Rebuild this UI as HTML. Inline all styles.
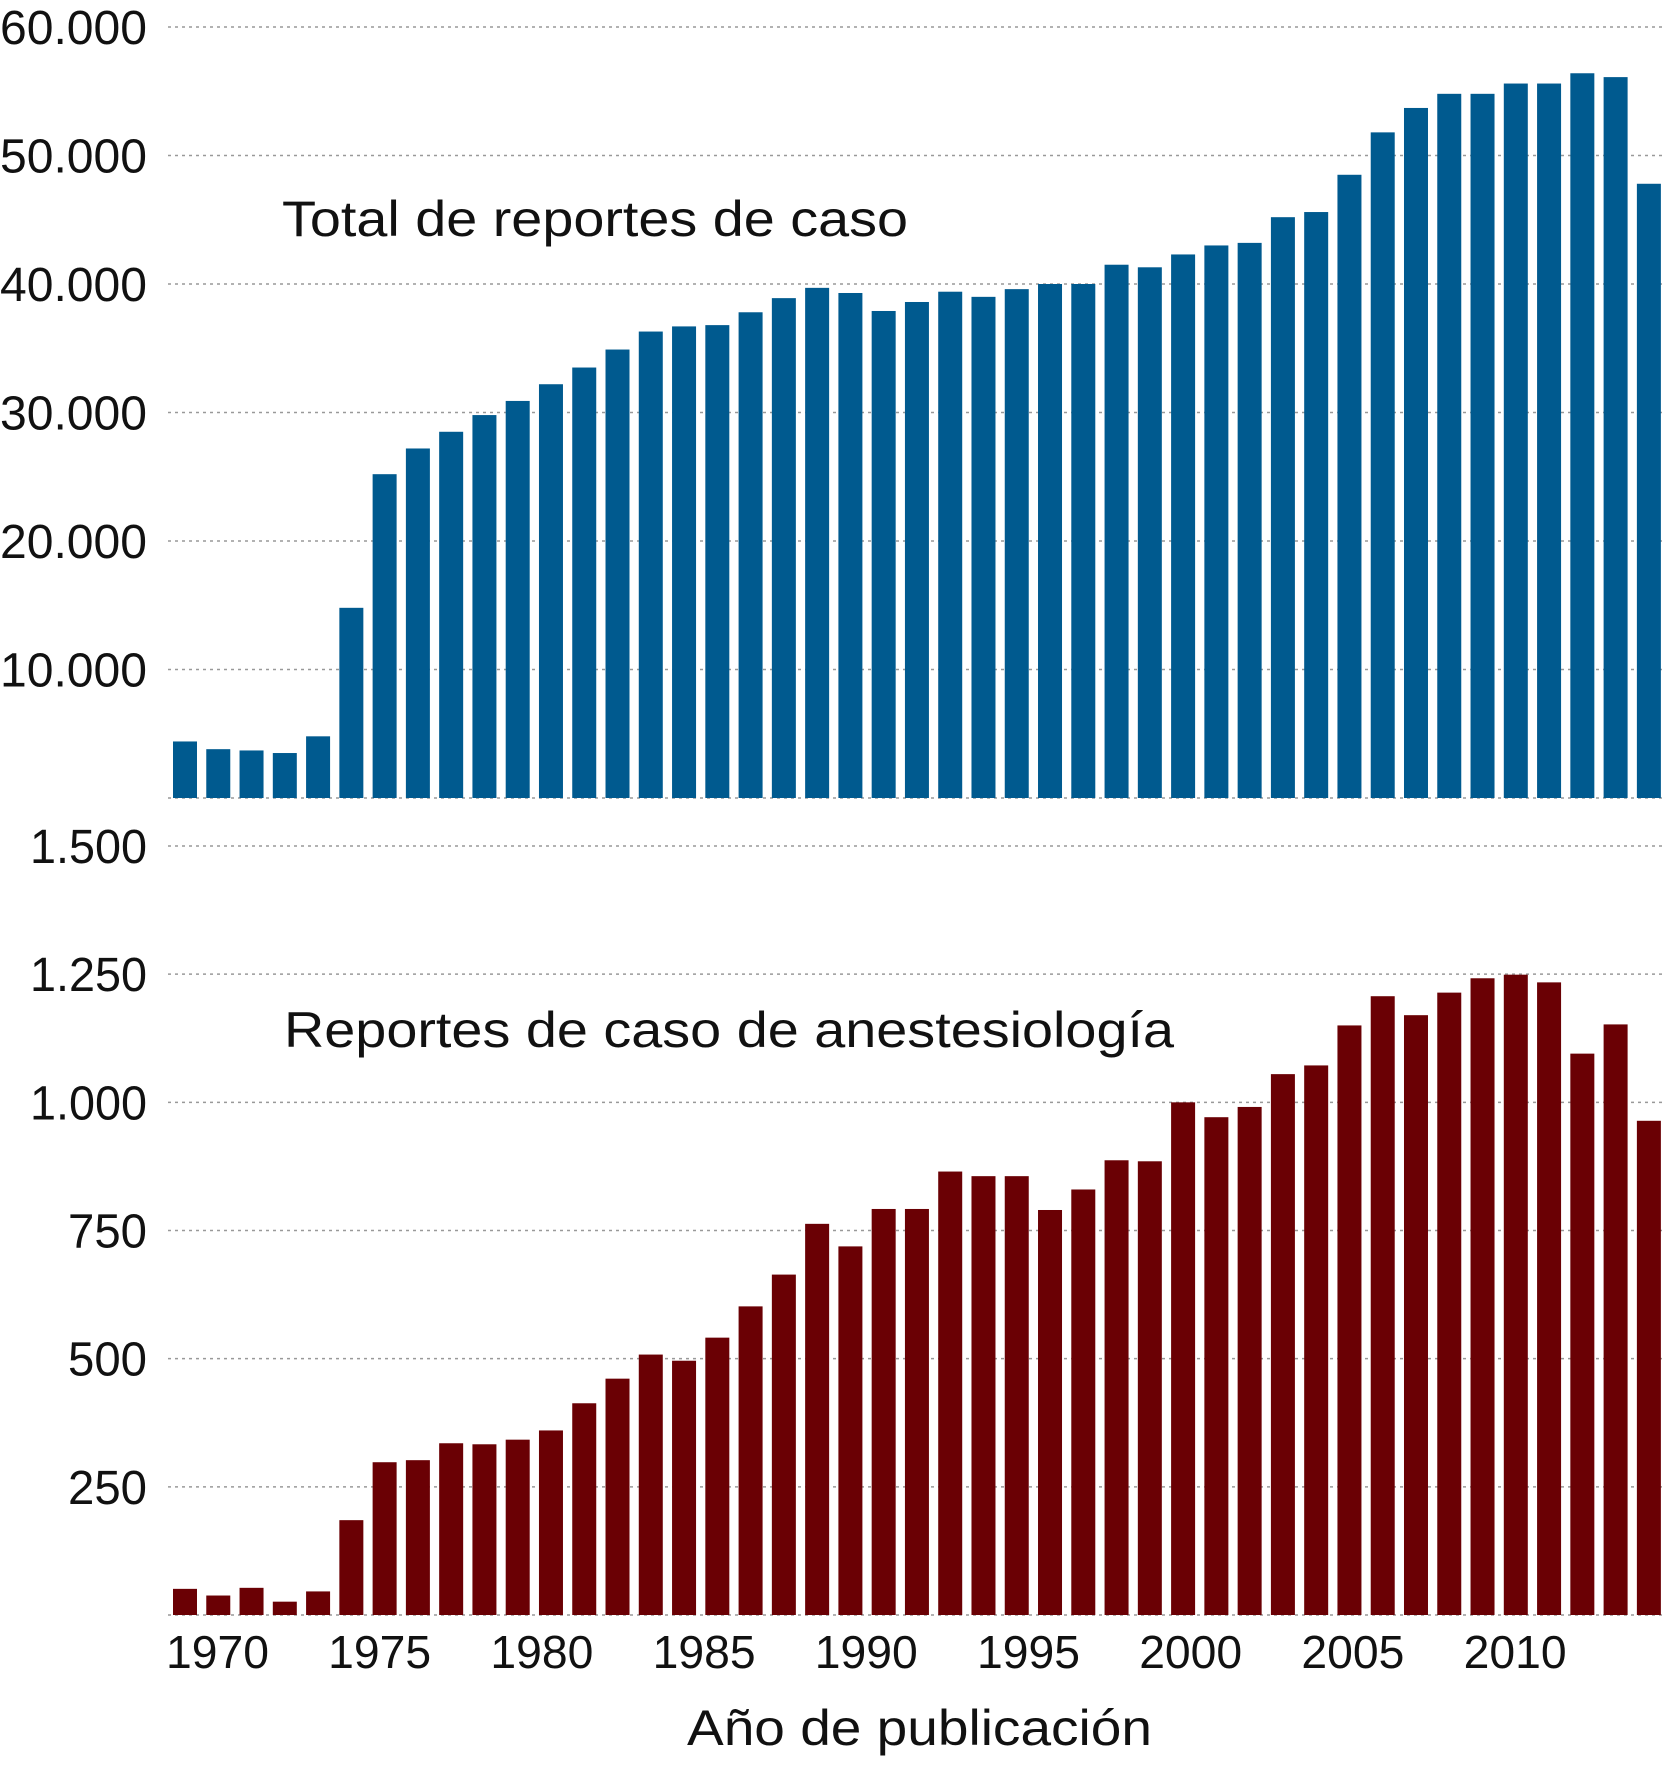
<!DOCTYPE html>
<html><head><meta charset="utf-8"><style>
html,body{margin:0;padding:0;background:#fff;}
svg{display:block;font-family:"Liberation Sans",Arial,sans-serif;}
</style></head><body>
<svg id="chart" width="1666" height="1773" viewBox="0 0 1666 1773" xmlns="http://www.w3.org/2000/svg">
<g id="topPanel"></g>
<g id="botPanel"></g>
<text x="282" y="236" font-size="50" fill="#111" textLength="626" lengthAdjust="spacingAndGlyphs">Total de reportes de caso</text>
<text x="284" y="1047" font-size="50" fill="#111" textLength="890" lengthAdjust="spacingAndGlyphs">Reportes de caso de anestesiología</text>
<text x="687" y="1745" font-size="50" fill="#111" textLength="465" lengthAdjust="spacingAndGlyphs">Año de publicación</text>
</svg>
<script>
const years = [1969,1970,1971,1972,1973,1974,1975,1976,1977,1978,1979,1980,1981,1982,1983,1984,1985,1986,1987,1988,1989,1990,1991,1992,1993,1994,1995,1996,1997,1998,1999,2000,2001,2002,2003,2004,2005,2006,2007,2008,2009,2010,2011,2012,2013];
const totalReports = [4400,3800,3700,3500,4800,14800,25200,27200,28500,29800,30900,32200,33500,34900,36300,36700,36800,37800,38900,39700,39300,37900,38600,39400,39000,39600,40000,40000,41500,41300,42300,43000,43200,45200,45600,48500,51800,53700,54800,54800,55600,55600,56400,56100,47800];
const anesthReports = [51,38,53,26,46,185,298,302,335,333,342,360,413,461,508,496,541,602,664,763,719,792,792,865,856,856,790,830,887,885,1000,971,991,1055,1072,1150,1207,1170,1214,1242,1249,1234,1095,1152,964];
const topTicks = [10000,20000,30000,40000,50000,60000];
const topTickLabels = ["10.000","20.000","30.000","40.000","50.000","60.000"];
const botTicks = [250,500,750,1000,1250,1500];
const botTickLabels = ["250","500","750","1.000","1.250","1.500"];
const yearLabels = [1970,1975,1980,1985,1990,1995,2000,2005,2010];

const NS = "http://www.w3.org/2000/svg";
const firstX = 173, band = 33.27, barW = 24;
function xPos(i){ return firstX + i*band; }
function xLabel(yr){ return 166 + (yr-1970)/5*162.2; }
function yTop(v){ return 798 - v*(798-27)/60000; }
function yBot(v){ return 1615 - v*(1615-846)/1500; }
function mk(tag, attrs, parent){
  const e = document.createElementNS(NS, tag);
  for (const k in attrs) e.setAttribute(k, attrs[k]);
  parent.appendChild(e); return e;
}
function labelLen(s){ return s.length===6 ? 147 : (s.length===5 ? 117 : 79); }
function grid(parent, y){
  const l = mk('line', {x1:168, x2:1666, y1:y, y2:y, stroke:'#999', 'stroke-width':1.5, 'stroke-dasharray':'3,4'}, parent);
  
  
}
const topG = document.getElementById('topPanel'), botG = document.getElementById('botPanel');
topTicks.forEach((t,i)=>{
  grid(topG, yTop(t));
  const s = topTickLabels[i];
  const tx = mk('text', {x:147-labelLen(s), y:yTop(t)+17, 'font-size':48, fill:'#111', textLength:labelLen(s), lengthAdjust:'spacingAndGlyphs'}, topG);
  tx.textContent = s;
  
  
});
botTicks.forEach((t,i)=>{
  grid(botG, yBot(t));
  const s = botTickLabels[i];
  const tx = mk('text', {x:147-labelLen(s), y:yBot(t)+17, 'font-size':48, fill:'#111', textLength:labelLen(s), lengthAdjust:'spacingAndGlyphs'}, botG);
  tx.textContent = s;
  
  
});
grid(topG, yTop(0));
grid(botG, yBot(0));
years.forEach((yr,i)=>{
  const r1 = mk('rect', {x:xPos(i), y:yTop(totalReports[i]), width:barW, height:yTop(0)-yTop(totalReports[i]), fill:'#005a8f'}, topG);
  
  
  const r2 = mk('rect', {x:xPos(i), y:yBot(anesthReports[i]), width:barW, height:yBot(0)-yBot(anesthReports[i]), fill:'#6a0004'}, botG);
  
  
});
const svgEl = document.getElementById('chart');
yearLabels.forEach(yr=>{
  const tx = mk('text', {x:xLabel(yr), y:1668, 'font-size':46, fill:'#111', textLength:103, lengthAdjust:'spacingAndGlyphs'}, svgEl);
  tx.textContent = yr;
  
  
});
</script>
</body></html>
